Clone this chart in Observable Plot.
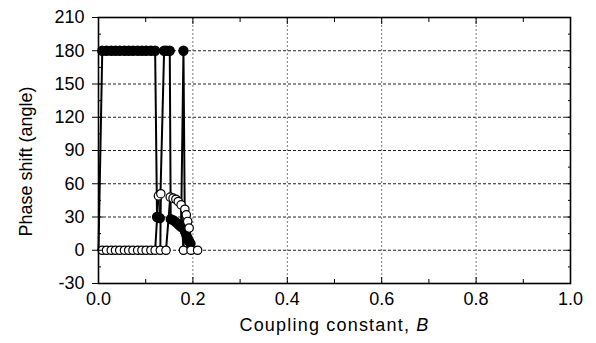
<!DOCTYPE html>
<html>
<head>
<meta charset="utf-8">
<script src="https://cdn.jsdelivr.net/npm/d3@7"></script>
<script src="https://cdn.jsdelivr.net/npm/@observablehq/plot@0.6"></script>
<style>
  html, body { margin: 0; padding: 0; background: #fff; }
  #chart { width: 596px; height: 343px; }
  svg { font-family: "Liberation Sans", Arial, Helvetica, sans-serif; }
</style>
</head>
<body>
<div id="chart"></div>
<script>
// ---- data ----
const filledB = [0, 0.008, 0.017, 0.027, 0.036, 0.045, 0.055, 0.064, 0.073, 0.083, 0.092, 0.101, 0.111, 0.12,
  0.124, 0.13, 0.139, 0.144, 0.151, 0.153, 0.159, 0.165, 0.17, 0.175, 0.18, 0.183, 0.186, 0.189, 0.192, 0.195];
const filledPhase = [0, 180, 180, 180, 180, 180, 180, 180, 180, 180, 180, 180, 180, 180,
  30, 29, 180, 180, 180, 28, 27, 25, 23, 21, 180, 17, 14, 11, 8, 6];

const openB = [0, 0.008, 0.017, 0.027, 0.036, 0.045, 0.055, 0.064, 0.073, 0.083, 0.092, 0.101, 0.111, 0.12,
  0.127, 0.132, 0.131, 0.143, 0.152, 0.158, 0.164, 0.169, 0.175, 0.18, 0.183, 0.186, 0.189, 0.192, 0.196, 0.21];
const openPhase = [0, 0, 0, 0, 0, 0, 0, 0, 0, 0, 0, 0, 0, 0,
  49, 51, 0, 0, 48, 47, 46, 44, 41, 0, 37, 32, 26, 20, 0, 0];

const xMajorTicks = [0, 0.2, 0.4, 0.6, 0.8, 1.0];
const xMinorTicks = [0.1, 0.3, 0.5, 0.7, 0.9];
const xGridTicks = [0.2, 0.4, 0.6, 0.8];
const yMajorTicks = [-30, 0, 30, 60, 90, 120, 150, 180, 210];
const yMinorTicks = [-15, 15, 45, 75, 105, 135, 165, 195];
const yGridTicks = [0, 30, 60, 90, 120, 150, 180];

const xLabel = "Coupling constant, ";
const xLabelItalic = "B";
const yLabel = "Phase shift (angle)";

const filled = filledB.map((b, i) => ({B: b, phase: filledPhase[i]}));
const open = openB.map((b, i) => ({B: b, phase: openPhase[i]}));

const chart = Plot.plot({
  width: 596,
  height: 343,
  marginLeft: 98,
  marginRight: 26,
  marginTop: 17,
  marginBottom: 60,
  style: {fontFamily: "'Liberation Sans', Arial, sans-serif", fontSize: "18px", color: "#000", background: "#fff"},
  x: {domain: [0, 1]},
  y: {domain: [-30, 210]},
  marks: [
    Plot.gridY(yGridTicks, {stroke: "#222", strokeOpacity: 1, strokeWidth: 1, strokeDasharray: "3,2"}),
    Plot.gridX(xGridTicks, {stroke: "#777", strokeOpacity: 1, strokeWidth: 1, strokeDasharray: "2,2"}),
    Plot.line(filled, {x: "B", y: "phase", stroke: "#000", strokeWidth: 2}),
    Plot.line(open, {x: "B", y: "phase", stroke: "#000", strokeWidth: 2}),
    Plot.dot(filled, {x: "B", y: "phase", r: 4.4, fill: "#000", stroke: "#000", filter: (d, i) => i > 0}),
    Plot.dot(open, {x: "B", y: "phase", r: 4.2, fill: "#fff", stroke: "#000", strokeWidth: 1.2, filter: (d, i) => i > 0}),
    Plot.frame({stroke: "#000", strokeWidth: 1.6}),
    // y axis: labels + outward major ticks
    Plot.axisY(yMajorTicks, {anchor: "left", tickSize: 6, tickPadding: 8, label: null, fontSize: 18, tickFormat: d => String(d)}),
    Plot.axisY(yMajorTicks, {anchor: "left", tickSize: -5, text: null, label: null}),
    Plot.axisY(yMinorTicks, {anchor: "left", tickSize: -3, text: null, label: null}),
    Plot.axisY(yMajorTicks, {anchor: "right", tickSize: -5, text: null, label: null}),
    Plot.axisY(yMinorTicks, {anchor: "right", tickSize: -3, text: null, label: null}),
    // x axis
    Plot.axisX(xMajorTicks, {anchor: "bottom", tickSize: 0, tickPadding: 9, label: null, fontSize: 18, tickFormat: d3.format(".1f")}),
    Plot.axisX(xMajorTicks, {anchor: "bottom", tickSize: -6, text: null, label: null}),
    Plot.axisX(xMinorTicks, {anchor: "bottom", tickSize: -4, text: null, label: null}),
    Plot.axisX(xMajorTicks, {anchor: "top", tickSize: -6, text: null, label: null}),
    Plot.axisX(xMinorTicks, {anchor: "top", tickSize: -4, text: null, label: null}),
    // axis titles
    Plot.text([yLabel], {frameAnchor: "left", textAnchor: "middle", rotate: -90, dx: -72, dy: 11, fontSize: 18, fill: "#000"}),
    Plot.text([xLabel + xLabelItalic], {frameAnchor: "bottom", dy: 47, fontSize: 18, fill: "#000", className: "xtitle"})
  ]
});

document.getElementById("chart").appendChild(chart);

// italic B in the x title
const xt = chart.querySelector(".xtitle text");
if (xt) {
  xt.textContent = "";
  xt.setAttribute("letter-spacing", "1.2");
  const t1 = document.createElementNS("http://www.w3.org/2000/svg", "tspan");
  t1.textContent = xLabel;
  const t2 = document.createElementNS("http://www.w3.org/2000/svg", "tspan");
  t2.textContent = xLabelItalic;
  t2.setAttribute("font-style", "italic");
  xt.appendChild(t1);
  xt.appendChild(t2);
}
</script>
</body>
</html>
